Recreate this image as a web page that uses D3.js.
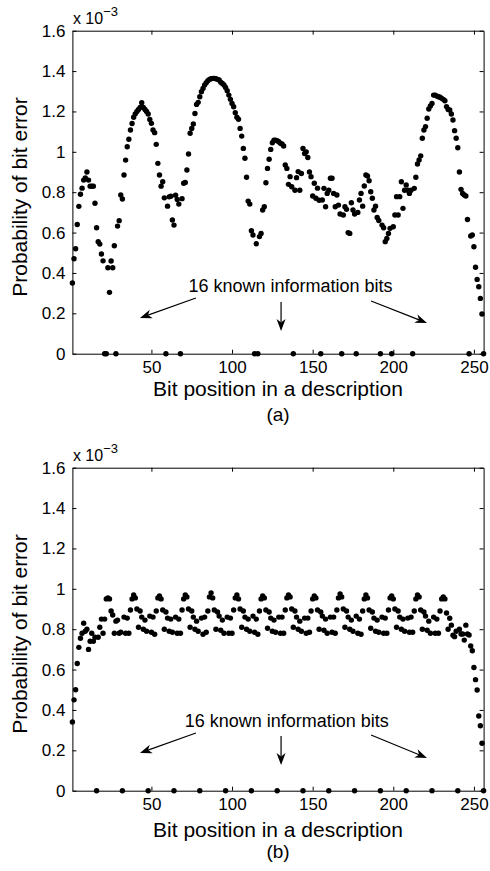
<!DOCTYPE html>
<html><head><meta charset="utf-8">
<script src="https://cdn.jsdelivr.net/npm/d3@7"></script>
<style>
body{margin:0;background:#fff}
svg{display:block}
text{font-family:"Liberation Sans",Arial,Helvetica,sans-serif;fill:#000}
</style>
</head><body>
<svg id="chart" width="490" height="871"></svg>
<script>
// ---- data ----
const bitPositions = d3.range(1, 257);
const xTickValues = [50, 100, 150, 200, 250];
const yTickValues = [0, 0.2, 0.4, 0.6, 0.8, 1.0, 1.2, 1.4, 1.6];
const yTickLabels = ["0", "0.2", "0.4", "0.6", "0.8", "1", "1.2", "1.4", "1.6"];
const panelLetters = ["(a)", "(b)"];
const annotationText = "16 known information bits";
const xLabel = "Bit position in a description";
const yLabel = "Probability of bit error";

// probability of bit error (x 10^-3), panel (a)
const probA = [
0.35,0.47,0.52,0.64,0.73,0.79,0.82,0.86,0.87,0.90,
0.86,0.83,0.83,0.83,0.745,0.624,0.555,0.543,0.494,0.46,
0,0,0.426,0.304,0.459,0.426,0.535,0,0.632,0.659,
0.786,0.766,0.885,0.959,1.025,1.062,1.108,1.14,1.171,1.188,
1.20,1.21,1.22,1.243,1.22,1.21,1.20,1.187,1.16,1.141,
1.108,1.095,1.037,0.943,0.885,0.83,0.852,0.772,0,0.731,
0.777,0.78,0.662,0.637,0.785,0.764,0.741,0,0.768,0.844,
0.848,0.91,0.989,1.092,1.116,1.138,1.19,1.235,1.245,1.273,
1.298,1.314,1.331,1.342,1.352,1.359,1.362,1.364,1.364,1.362,
1.359,1.356,1.345,1.339,1.331,1.319,1.303,1.281,1.26,1.24,
1.223,1.194,1.171,1.161,1.116,1.078,1.017,0.968,0.874,0.756,
0.741,0.609,0.588,0,0.545,0,0.58,0.596,0.712,0.728,
0.847,0.918,0.963,1.012,1.045,1.058,1.058,1.055,1.05,1.042,
1.039,1.029,0.935,0.918,0.839,0.877,0.827,0,0.81,0.872,
0.902,0.81,0.893,1.017,0.992,1.0,0.972,0.90,0.877,0.781,
0.844,0.77,0.82,0.76,0,0.761,0.819,0.728,0.794,0.81,
0.869,0.869,0.794,0.728,0.786,0.736,0.692,0,0.687,0.728,
0.715,0.60,0.596,0.748,0.712,0.692,0,0.70,0.761,0.794,
0.731,0.831,0.885,0.88,0.857,0.802,0.77,0.712,0.731,0.675,
0.66,0,0.637,0.624,0.555,0.571,0.596,0.621,0,0.629,
0.687,0.778,0.687,0.778,0.852,0.72,0.81,0.836,0.81,0.794,
0.81,0,0.819,0.874,0.94,0.96,0.98,1.067,1.108,1.125,
1.166,1.212,1.227,1.24,1.281,1.281,1.276,1.273,1.27,1.265,
1.26,1.253,1.224,1.21,1.207,1.187,1.158,1.105,1.067,1.02,
0.9,0.814,0.794,0.786,0.781,0.665,0,0.583,0.588,0.53,
0.428,0.368,0.332,0.274,0.197,0
];

// probability of bit error (x 10^-3), panel (b)
const probB = [
0.34,0.45,0.50,0.63,0.71,0.755,0.78,0.83,0.79,0.80,0.70,0.74,0.78,0.74,0.76,0,
0.76,0.81,0.85,0.78,0.85,0.95,0.955,0.95,0.89,0.87,0.78,0.84,0.845,0.78,0.785,0,
0.86,0.78,0.855,0.78,0.895,0.95,0.97,0.955,0.90,0.81,0.89,0.86,0.80,0.845,0.79,0,
0.865,0.785,0.86,0.775,0.89,0.955,0.965,0.95,0.895,0.80,0.885,0.855,0.79,0.85,0.785,0,
0.86,0.78,0.85,0.78,0.895,0.95,0.97,0.96,0.90,0.81,0.89,0.86,0.80,0.84,0.79,0,
0.855,0.775,0.86,0.785,0.89,0.96,0.98,0.955,0.895,0.80,0.885,0.865,0.795,0.845,0.78,0,
0.86,0.78,0.855,0.78,0.895,0.955,0.97,0.95,0.90,0.81,0.89,0.86,0.80,0.85,0.79,0,
0.865,0.785,0.85,0.775,0.89,0.95,0.965,0.955,0.895,0.805,0.885,0.855,0.79,0.845,0.785,0,
0.86,0.78,0.86,0.78,0.895,0.955,0.97,0.96,0.90,0.81,0.89,0.86,0.80,0.84,0.79,0,
0.855,0.78,0.855,0.785,0.89,0.95,0.965,0.955,0.895,0.80,0.885,0.865,0.795,0.85,0.78,0,
0.86,0.785,0.86,0.78,0.895,0.955,0.975,0.96,0.90,0.81,0.89,0.86,0.80,0.845,0.79,0,
0.865,0.78,0.85,0.775,0.89,0.95,0.97,0.955,0.895,0.805,0.885,0.855,0.79,0.845,0.785,0,
0.86,0.78,0.855,0.78,0.895,0.955,0.965,0.95,0.90,0.81,0.89,0.86,0.80,0.85,0.79,0,
0.855,0.785,0.86,0.785,0.89,0.95,0.97,0.96,0.895,0.80,0.885,0.865,0.795,0.84,0.78,0,
0.86,0.78,0.85,0.78,0.89,0.95,0.96,0.95,0.88,0.80,0.854,0.82,0.77,0.763,0.79,0,
0.80,0.776,0.776,0.746,0.82,0.776,0.771,0.717,0.693,0.61,0.55,0.499,0.37,0.322,0.235,0
];

// annotation arrows in data units [x1, y1, x2, y2] (tail -> head)
const arrowsA = [[77.6,0.276,42.9,0.177],[130.4,0.256,130.4,0.112],[186.2,0.261,220.9,0.152]];
const arrowsB = [[77.6,0.286,42.9,0.187],[130.4,0.271,130.4,0.127],[186.2,0.276,220.9,0.162]];
const annotPosA = [136.3, 0.308];
const annotPosB = [133.9, 0.317];

// ---- layout ----
const panels = [
  {values: probA, top: 30.7, bottom: 353.7, arrows: arrowsA, annot: annotPosA, letter: panelLetters[0], xlabY: 395.5, letY: 421, ylabY: 197},
  {values: probB, top: 467.7, bottom: 790.7, arrows: arrowsB, annot: annotPosB, letter: panelLetters[1], xlabY: 836.5, letY: 858, ylabY: 634}
];
const left = 72.4, right = 483.6;
const svg = d3.select("#chart");
const FONT = '"Liberation Sans",Arial,Helvetica,sans-serif';

panels.forEach(p => {
  const x = d3.scaleLinear().domain([1, 256]).range([left, right]);
  const y = d3.scaleLinear().domain([0, 1.6]).range([p.bottom, p.top]);
  const g = svg.append("g");

  const styleAxis = sel => {
    sel.attr("font-family", FONT).attr("font-size", 17);
    sel.selectAll("path.domain").attr("stroke", "#000").attr("stroke-width", 1);
    sel.selectAll(".tick line").attr("stroke", "#000").attr("stroke-width", 1);
    sel.selectAll(".tick text").attr("fill", "#000");
  };

  g.append("g").attr("transform", `translate(0,${p.bottom})`)
    .call(d3.axisBottom(x).tickValues(xTickValues).tickSizeInner(-4).tickSizeOuter(0).tickPadding(7))
    .call(styleAxis);
  g.append("g").attr("transform", `translate(0,${p.top})`)
    .call(d3.axisTop(x).tickValues(xTickValues).tickSizeInner(-4).tickSizeOuter(0).tickFormat(""))
    .call(styleAxis);
  g.append("g").attr("transform", `translate(${left},0)`)
    .call(d3.axisLeft(y).tickValues(yTickValues).tickFormat((d, i) => yTickLabels[i]).tickSizeInner(-4).tickSizeOuter(0).tickPadding(7))
    .call(styleAxis);
  g.append("g").attr("transform", `translate(${right},0)`)
    .call(d3.axisRight(y).tickValues(yTickValues).tickSizeInner(-4).tickSizeOuter(0).tickFormat(""))
    .call(styleAxis);

  // exponent label
  const ex = g.append("text").attr("x", left + 0.5).attr("y", p.top - 7).attr("font-size", 16);
  ex.append("tspan").text("x 10");
  ex.append("tspan").attr("dy", -8).attr("font-size", 13).text("\u22123");

  // dots
  g.append("g").selectAll("circle").data(p.values).join("circle")
    .attr("cx", (d, i) => x(bitPositions[i]))
    .attr("cy", d => y(d))
    .attr("r", 2.7)
    .attr("fill", "#000");

  // annotation
  g.append("text").attr("x", x(p.annot[0])).attr("y", y(p.annot[1]))
    .attr("text-anchor", "middle").attr("font-size", 18).text(annotationText);

  p.arrows.forEach(a => {
    const x1 = x(a[0]), y1 = y(a[1]), x2 = x(a[2]), y2 = y(a[3]);
    const ang = Math.atan2(y2 - y1, x2 - x1);
    const L = 12, W = 4.5, notch = 8.5;
    const bx = x2 - notch * Math.cos(ang), by = y2 - notch * Math.sin(ang);
    g.append("line").attr("x1", x1).attr("y1", y1).attr("x2", bx).attr("y2", by)
      .attr("stroke", "#000").attr("stroke-width", 1.2);
    const px = -Math.sin(ang), py = Math.cos(ang);
    const cx = x2 - L * Math.cos(ang), cy = y2 - L * Math.sin(ang);
    const pts = [[x2, y2], [cx + W * px, cy + W * py], [bx, by], [cx - W * px, cy - W * py]];
    g.append("polygon").attr("points", pts.map(q => q.join(",")).join(" ")).attr("fill", "#000");
  });

  // labels
  g.append("text").attr("x", (left + right) / 2).attr("y", p.xlabY)
    .attr("text-anchor", "middle").attr("font-size", 21).text(xLabel);
  g.append("text").attr("x", (left + right) / 2).attr("y", p.letY)
    .attr("text-anchor", "middle").attr("font-size", 19).text(p.letter);
  g.append("text").attr("transform", `translate(27,${p.ylabY}) rotate(-90)`)
    .attr("text-anchor", "middle").attr("font-size", 21).text(yLabel);
});
</script>
</body></html>
